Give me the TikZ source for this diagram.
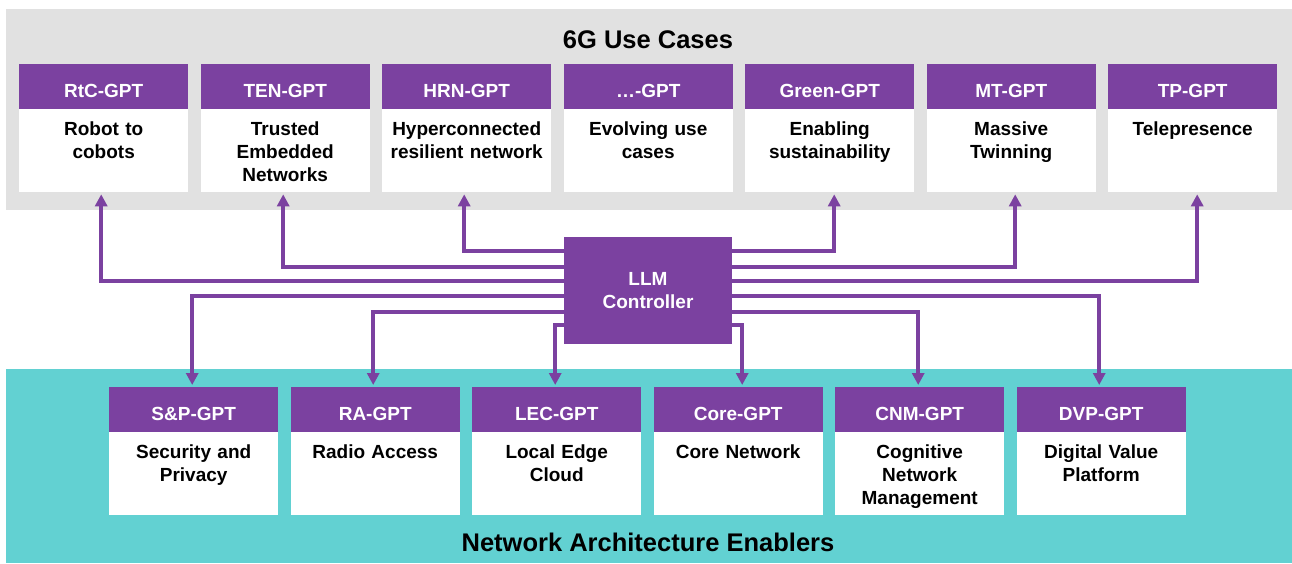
\documentclass[tikz,border=0pt]{standalone}
\usepackage{fontspec}
\setmainfont{Liberation Sans}
\usetikzlibrary{arrows.meta}
\definecolor{gptpurple}{RGB}{123,65,160}
\definecolor{bandgray}{RGB}{225,225,225}
\definecolor{bandteal}{RGB}{98,209,210}
\tikzset{
  head/.style={fill=gptpurple, text=white, font=\bfseries\fontsize{19}{23}\selectfont,
    minimum width=169pt, inner sep=0pt, text height=33pt, text depth=11.5pt, anchor=north west},
  body/.style={fill=white, font=\bfseries\fontsize{19}{23}\selectfont, text width=169pt,
    align=center, inner sep=0pt, text height=26.5pt, text depth=56.5pt, anchor=north},
  llmbox/.style={fill=gptpurple, text=white, font=\bfseries\fontsize{19}{23}\selectfont,
    align=center, minimum width=168pt, minimum height=107pt, inner sep=0pt},
  bandtitle/.style={font=\bfseries\fontsize{25.5}{30}\selectfont, anchor=base, inner sep=0pt},
  link/.style={draw=gptpurple, line width=3.5pt, -{Triangle[length=12pt,width=12pt]}},
}
\begin{document}
\begin{tikzpicture}[x=1pt,y=-1pt]
  \useasboundingbox (0,0) rectangle (1292,563);
  % bands
  \fill[bandgray] (6,9) rectangle (1292,210);
  \fill[bandteal] (6,369) rectangle (1292,563);
  \node[bandtitle] (usecases) at (648,48.5) {6G Use Cases};
  \node[bandtitle] (enablers) at (648,551) {Network Architecture Enablers};

  % use cases
  \node[head] (rtc) at (19,64) {RtC-GPT};
  \node[body] (rtc-b) at (rtc.south) {Robot to\\cobots};
  \node[head] (ten) at (200.5,64) {TEN-GPT};
  \node[body] (ten-b) at (ten.south) {Trusted\\Embedded\\Networks};
  \node[head] (hrn) at (382,64) {HRN-GPT};
  \node[body] (hrn-b) at (hrn.south) {Hyperconnected\\resilient network};
  \node[head] (evo) at (563.5,64) {…-GPT};
  \node[body] (evo-b) at (evo.south) {Evolving use\\cases};
  \node[head] (green) at (745,64) {Green-GPT};
  \node[body] (green-b) at (green.south) {Enabling\\sustainability};
  \node[head] (mt) at (926.5,64) {MT-GPT};
  \node[body] (mt-b) at (mt.south) {Massive\\Twinning};
  \node[head] (tp) at (1108,64) {TP-GPT};
  \node[body] (tp-b) at (tp.south) {Telepresence};

  % enablers
  \node[head] (sp) at (109,387) {S\&P-GPT};
  \node[body] (sp-b) at (sp.south) {Security and\\Privacy};
  \node[head] (ra) at (290.5,387) {RA-GPT};
  \node[body] (ra-b) at (ra.south) {Radio Access};
  \node[head] (lec) at (472,387) {LEC-GPT};
  \node[body] (lec-b) at (lec.south) {Local Edge\\Cloud};
  \node[head] (core) at (653.5,387) {Core-GPT};
  \node[body] (core-b) at (core.south) {Core Network};
  \node[head] (cnm) at (835,387) {CNM-GPT};
  \node[body] (cnm-b) at (cnm.south) {Cognitive\\Network\\Management};
  \node[head] (dvp) at (1016.5,387) {DVP-GPT};
  \node[body] (dvp-b) at (dvp.south) {Digital Value\\Platform};

  \node[llmbox] (llm) at (648,290.5) {LLM\\Controller};

  \begin{scope}[link, shorten >=2pt]
    \draw ([yshift=39.5pt]llm.west) -| ([xshift=-2.5pt]hrn-b.south);
    \draw ([yshift=23.5pt]llm.west) -| ([xshift=-2pt]ten-b.south);
    \draw ([yshift=9.5pt]llm.west) -| ([xshift=-2.5pt]rtc-b.south);
    \draw ([yshift=39.5pt]llm.east) -| ([xshift=4.5pt]green-b.south);
    \draw ([yshift=23.5pt]llm.east) -| ([xshift=4pt]mt-b.south);
    \draw ([yshift=9.5pt]llm.east) -| ([xshift=4.5pt]tp-b.south);
  \end{scope}
  \begin{scope}[link, shorten >=2pt]
    \draw ([yshift=-5.5pt]llm.west) -| ([xshift=-1.5pt]sp.north);
    \draw ([yshift=-21.5pt]llm.west) -| ([xshift=-2pt]ra.north);
    \draw ([yshift=-34.5pt]llm.west) -| ([xshift=-1.5pt]lec.north);
    \draw ([yshift=-5.5pt]llm.east) -| ([xshift=-2pt]dvp.north);
    \draw ([yshift=-21.5pt]llm.east) -| ([xshift=-1.5pt]cnm.north);
    \draw ([yshift=-34.5pt]llm.east) -| ([xshift=4pt]core.north);
  \end{scope}
\end{tikzpicture}
\end{document}
